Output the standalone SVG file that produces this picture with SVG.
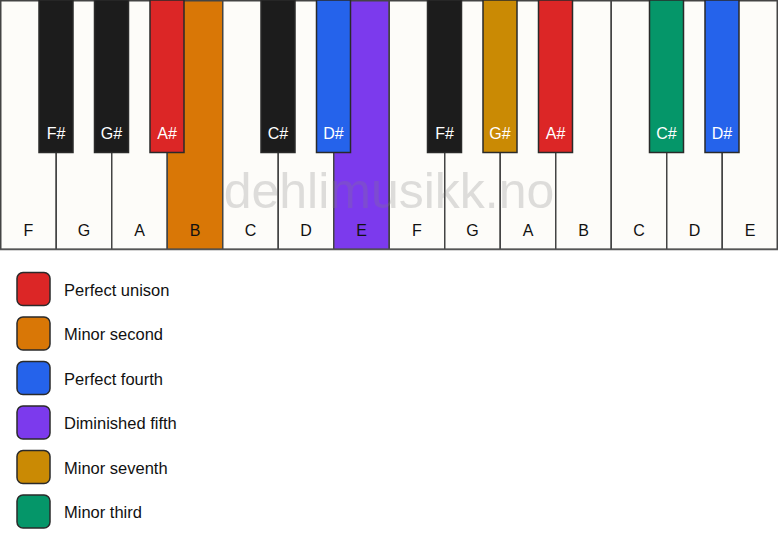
<svg xmlns="http://www.w3.org/2000/svg" width="778" height="550" viewBox="0 0 778 550">
<style>
.w{fill:#fdfcf9;stroke:#444;stroke-width:1.5}
.b{stroke:#2a2a2a;stroke-width:1.5}
.wl{font-family:"Liberation Sans",Arial,sans-serif;font-size:16px;fill:#111;text-anchor:middle}
.bl{font-family:"Liberation Sans",Arial,sans-serif;font-size:16px;fill:#fff;text-anchor:middle}
.lg{stroke:#2a2a2a;stroke-width:1.5}
.lt{font-family:"Liberation Sans",Arial,sans-serif;font-size:16.5px;fill:#111}
.red{fill:#dc2626}.org{fill:#d97706}.blu{fill:#2563eb}.pur{fill:#7c3aed}.gld{fill:#ca8a04}.grn{fill:#059669}.blk{fill:#1c1c1c}
</style>
<rect width="778" height="550" fill="#ffffff"/>
<g id="white-keys">
<g id="w-F1"><rect class="w" x="0.75" y="0.75" width="55.5" height="248.5"/><text class="wl" x="28.5" y="236">F</text></g>
<g id="w-G1"><rect class="w" x="56.25" y="0.75" width="55.5" height="248.5"/><text class="wl" x="84" y="236">G</text></g>
<g id="w-A1"><rect class="w" x="111.75" y="0.75" width="55.5" height="248.5"/><text class="wl" x="139.5" y="236">A</text></g>
<g id="w-B1"><rect class="w org" x="167.25" y="0.75" width="55.5" height="248.5"/><text class="wl" x="195" y="236">B</text></g>
<g id="w-C1"><rect class="w" x="222.75" y="0.75" width="55.5" height="248.5"/><text class="wl" x="250.5" y="236">C</text></g>
<g id="w-D1"><rect class="w" x="278.25" y="0.75" width="55.5" height="248.5"/><text class="wl" x="306" y="236">D</text></g>
<g id="w-E1"><rect class="w pur" x="333.75" y="0.75" width="55.5" height="248.5"/><text class="wl" x="361.5" y="236">E</text></g>
<g id="w-F2"><rect class="w" x="389.25" y="0.75" width="55.5" height="248.5"/><text class="wl" x="417" y="236">F</text></g>
<g id="w-G2"><rect class="w" x="444.75" y="0.75" width="55.5" height="248.5"/><text class="wl" x="472.5" y="236">G</text></g>
<g id="w-A2"><rect class="w" x="500.25" y="0.75" width="55.5" height="248.5"/><text class="wl" x="528" y="236">A</text></g>
<g id="w-B2"><rect class="w" x="555.75" y="0.75" width="55.5" height="248.5"/><text class="wl" x="583.5" y="236">B</text></g>
<g id="w-C2"><rect class="w" x="611.25" y="0.75" width="55.5" height="248.5"/><text class="wl" x="639" y="236">C</text></g>
<g id="w-D2"><rect class="w" x="666.75" y="0.75" width="55.5" height="248.5"/><text class="wl" x="694.5" y="236">D</text></g>
<g id="w-E2"><rect class="w" x="722.25" y="0.75" width="55" height="248.5"/><text class="wl" x="750" y="236">E</text></g>
</g>
<g id="black-keys">
<g id="b-Fs1"><rect class="b blk" x="39" y="0" width="34" height="152.5"/><text class="bl" x="56" y="139">F#</text></g>
<g id="b-Gs1"><rect class="b blk" x="94.5" y="0" width="34" height="152.5"/><text class="bl" x="111.5" y="139">G#</text></g>
<g id="b-As1"><rect class="b red" x="150" y="0" width="34" height="152.5"/><text class="bl" x="167" y="139">A#</text></g>
<g id="b-Cs1"><rect class="b blk" x="261" y="0" width="34" height="152.5"/><text class="bl" x="278" y="139">C#</text></g>
<g id="b-Ds1"><rect class="b blu" x="316.5" y="0" width="34" height="152.5"/><text class="bl" x="333.5" y="139">D#</text></g>
<g id="b-Fs2"><rect class="b blk" x="427.5" y="0" width="34" height="152.5"/><text class="bl" x="444.5" y="139">F#</text></g>
<g id="b-Gs2"><rect class="b gld" x="483" y="0" width="34" height="152.5"/><text class="bl" x="500" y="139">G#</text></g>
<g id="b-As2"><rect class="b red" x="538.5" y="0" width="34" height="152.5"/><text class="bl" x="555.5" y="139">A#</text></g>
<g id="b-Cs2"><rect class="b grn" x="649.5" y="0" width="34" height="152.5"/><text class="bl" x="666.5" y="139">C#</text></g>
<g id="b-Ds2"><rect class="b blu" x="705" y="0" width="34" height="152.5"/><text class="bl" x="722" y="139">D#</text></g>
</g>
<line x1="0" y1="249.5" x2="778" y2="249.5" stroke="#555" stroke-width="1.5"/>
<text x="389" y="208" font-family="'Liberation Sans',Arial,sans-serif" font-size="50" fill="#808080" opacity="0.25" text-anchor="middle">dehlimusikk.no</text>
<g id="legend">
<g id="lg-unison"><rect class="lg red" x="17" y="272.5" width="33" height="33" rx="6"/><text class="lt" x="64" y="295.5">Perfect unison</text></g>
<g id="lg-m2"><rect class="lg org" x="17" y="317" width="33" height="33" rx="6"/><text class="lt" x="64" y="340">Minor second</text></g>
<g id="lg-p4"><rect class="lg blu" x="17" y="361.5" width="33" height="33" rx="6"/><text class="lt" x="64" y="384.5">Perfect fourth</text></g>
<g id="lg-d5"><rect class="lg pur" x="17" y="406" width="33" height="33" rx="6"/><text class="lt" x="64" y="429">Diminished fifth</text></g>
<g id="lg-m7"><rect class="lg gld" x="17" y="450.5" width="33" height="33" rx="6"/><text class="lt" x="64" y="473.5">Minor seventh</text></g>
<g id="lg-m3"><rect class="lg grn" x="17" y="495" width="33" height="33" rx="6"/><text class="lt" x="64" y="518">Minor third</text></g>
</g>
</svg>
